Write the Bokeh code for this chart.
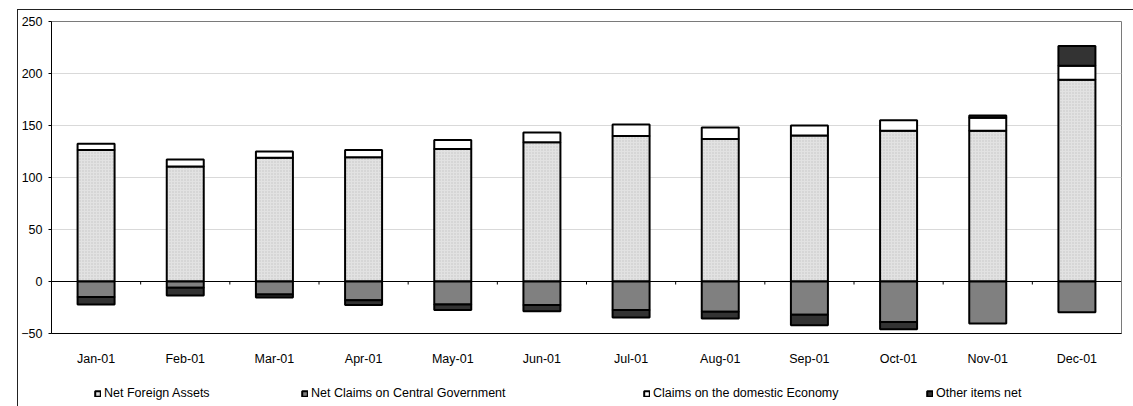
from bokeh.plotting import figure
from bokeh.layouts import column
from bokeh.models import FixedTicker, Span, Legend, LegendItem
from bokeh.embed import file_html
from bokeh.resources import INLINE

# Monthly contributions, 2001
months = ["Jan-01", "Feb-01", "Mar-01", "Apr-01", "May-01", "Jun-01",
          "Jul-01", "Aug-01", "Sep-01", "Oct-01", "Nov-01", "Dec-01"]
net_foreign_assets = [126.5, 110.5, 119, 119.5, 127.5, 134, 140, 137, 140.4, 145, 145, 194]
net_claims_central_gov = [-15, -6, -12.5, -18, -22, -22.5, -27.5, -29, -32, -39, -40.5, -29.5]
claims_domestic_economy = [6, 6.8, 6, 7, 8.5, 9.3, 11, 11, 9.6, 10, 12.5, 13.5]
other_items_net = [-7, -7.5, -3, -4.5, -5.5, -6, -7, -6.5, -10, -7, 2, 19]

series_labels = ["Net Foreign Assets", "Net Claims on Central Government",
                 "Claims on the domestic Economy", "Other items net"]
y_ticks = [-50, 0, 50, 100, 150, 200, 250]

FONT = "Liberation Sans"
x = list(range(1, len(months) + 1))

# stacked positions: positives build upward, negatives downward
cde_bottom = list(net_foreign_assets)
cde_top = [a + c for a, c in zip(net_foreign_assets, claims_domestic_economy)]
oth_bottom, oth_top = [], []
for a, g, c, o in zip(net_foreign_assets, net_claims_central_gov,
                      claims_domestic_economy, other_items_net):
    if o >= 0:
        oth_bottom.append(a + c)
        oth_top.append(a + c + o)
    else:
        oth_bottom.append(g)
        oth_top.append(g + o)

styles = [
    dict(fill_color="#e2e2e2", hatch_pattern="dot", hatch_color="#c2c2c2",
         hatch_scale=3, hatch_weight=1),
    dict(fill_color="#808080"),
    dict(fill_color="white"),
    dict(fill_color="#333333"),
]
bar_w = 0.415
outline = dict(line_color="black", line_width=2)

p = figure(width=1115, height=363, output_backend="svg", toolbar_location=None,
           x_range=(0.5, len(months) + 0.5), y_range=(-50, 250),
           min_border_left=33, min_border_top=11, min_border_right=12,
           min_border_bottom=40)
p.outline_line_color = "#7a7a7a"
p.outline_line_width = 1
p.background_fill_color = "white"
p.border_fill_color = "white"

p.vbar(x=x, bottom=0, top=net_foreign_assets, width=bar_w, **outline, **styles[0])
p.vbar(x=x, bottom=0, top=net_claims_central_gov, width=bar_w, **outline, **styles[1])
p.vbar(x=x, bottom=cde_bottom, top=cde_top, width=bar_w, **outline, **styles[2])
p.vbar(x=x, bottom=oth_bottom, top=oth_top, width=bar_w, **outline, **styles[3])

# category axis line through zero with tick marks between months
p.add_layout(Span(location=0, dimension="width", line_color="black", line_width=1))
bounds = [i + 0.5 for i in range(1, len(months))]
p.segment(x0=bounds, x1=bounds, y0=[0] * len(bounds), y1=[-2.9] * len(bounds),
          line_color="black", line_width=1)

# axes
p.yaxis.ticker = FixedTicker(ticks=y_ticks)
p.yaxis.axis_line_color = "black"
p.yaxis.major_tick_line_color = "black"
p.yaxis.major_tick_out = 3
p.yaxis.major_tick_in = 0
p.yaxis.minor_tick_line_color = None
p.yaxis.major_label_standoff = 6
p.yaxis.major_label_text_font = FONT
p.yaxis.major_label_text_font_size = "12.5px"
p.yaxis.major_label_text_color = "black"

p.xaxis.ticker = FixedTicker(ticks=x)
p.xaxis.major_label_overrides = {i: m for i, m in zip(x, months)}
p.xaxis.axis_line_color = "black"
p.xaxis.major_tick_line_color = None
p.xaxis.minor_tick_line_color = None
p.xaxis.major_label_standoff = 12
p.xaxis.major_label_text_font = FONT
p.xaxis.major_label_text_font_size = "12.5px"
p.xaxis.major_label_text_color = "black"

p.xgrid.grid_line_color = None
p.ygrid.grid_line_color = "#d9d9d9"
p.ygrid.grid_line_width = 1

# legend strip underneath the chart (its frame lines up with the chart's frame)
lf = figure(width=1115, height=33, output_backend="svg", toolbar_location=None,
            x_axis_location=None, y_axis_location=None,
            min_border_left=0, min_border_right=0, min_border_top=0,
            min_border_bottom=0, x_range=(0, 1), y_range=(0, 1))
lf.outline_line_color = None
lf.xgrid.grid_line_color = None
lf.ygrid.grid_line_color = None

nan = float("nan")
legend_x = [43, 250, 592, 875]
for label, sty, xpos in zip(series_labels, styles, legend_x):
    # swatch-only renderer: one undrawable row so the legend glyph has styles
    proxy = lf.vbar(x=[nan], bottom=[nan], top=[nan], width=bar_w, **outline, **sty)
    lg = Legend(items=[LegendItem(label=label, renderers=[proxy])],
                location=(xpos, 6), orientation="horizontal",
                glyph_width=7, glyph_height=7, label_standoff=3,
                label_height=8, padding=0, margin=0, spacing=0,
                border_line_color=None, background_fill_alpha=0,
                label_text_font=FONT, label_text_font_size="12.5px",
                label_text_color="black")
    lf.add_layout(lg, "center")

layout = column(p, lf, spacing=0,
                styles={"margin-left": "17px", "margin-top": "9px",
                        "border-left": "1px solid #222",
                        "border-top": "1px solid #222"})

open("out.html", "w").write(file_html(layout, INLINE))
